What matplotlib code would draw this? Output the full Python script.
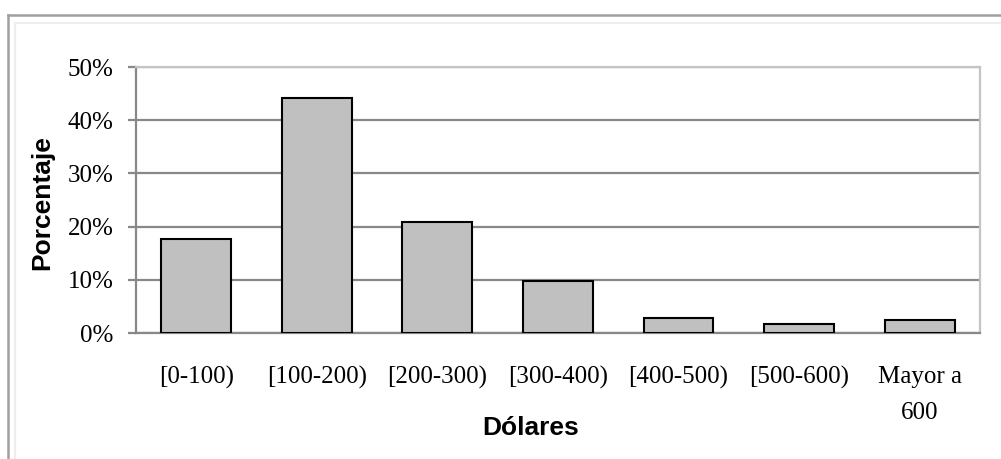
import matplotlib.pyplot as plt
from matplotlib.lines import Line2D
from matplotlib.ticker import FuncFormatter

# rangos de gasto y porcentaje de encuestados
rangos = ['[0-100)', '[100-200)', '[200-300)', '[300-400)',
          '[400-500)', '[500-600)', 'Mayor a\n600']
porcentaje = [17.6, 44.1, 20.9, 9.8, 2.9, 1.7, 2.5]

serif = 'Liberation Serif'
sans = 'Liberation Sans'

fig = plt.figure(figsize=(10.01, 4.59), dpi=100)
ax = fig.add_axes([0.1359, 0.2745, 0.843, 0.5795])

x = range(len(rangos))
ax.bar(x, porcentaje, width=0.58, color='#c0c0c0', edgecolor='black',
       linewidth=1.5, zorder=3)

ax.set_xlim(-0.5, len(rangos) - 0.5)
ax.set_ylim(0, 50)
ax.set_yticks([0, 10, 20, 30, 40, 50])
ax.yaxis.set_major_formatter(FuncFormatter(lambda v, p: f'{v:.0f}%'))
ax.set_xticks(list(x))
ax.set_xticklabels(rangos, fontfamily=serif, fontsize=18, linespacing=1.8)
for lab in ax.get_yticklabels():
    lab.set_fontfamily(serif)
    lab.set_fontsize(18)

ax.grid(axis='y', color='#888888', linewidth=1.6, zorder=0)
ax.tick_params(axis='x', length=0, pad=24)
ax.tick_params(axis='y', length=6, width=1.6, color='#888888', pad=10)

for lado in ['left', 'bottom']:
    ax.spines[lado].set_color('#888888')
    ax.spines[lado].set_linewidth(1.6)
for lado in ['top', 'right']:
    ax.spines[lado].set_color('#c4c4c4')
    ax.spines[lado].set_linewidth(1.6)

ax.set_xlabel('Dólares', fontfamily=sans, fontweight='bold', fontsize=19,
              va='center')
ax.xaxis.set_label_coords(0.468, -0.357)
ax.set_ylabel('Porcentaje', fontfamily=sans, fontweight='bold', fontsize=19,
              va='center')
ax.yaxis.set_label_coords(-0.111, 0.489)

# marco del gráfico
W, H = 1001, 459
fig.add_artist(Line2D([8 / W, 8 / W], [0, 1 - 15 / H], color='#a0a0a0',
                      linewidth=1.8, transform=fig.transFigure))
fig.add_artist(Line2D([8 / W, 1], [1 - 15 / H, 1 - 15 / H], color='#a0a0a0',
                      linewidth=1.8, transform=fig.transFigure))
fig.add_artist(Line2D([14.5 / W, 14.5 / W], [0, 1 - 22.5 / H], color='#eeeeee',
                      linewidth=1.6, transform=fig.transFigure))
fig.add_artist(Line2D([14.5 / W, 1], [1 - 22.5 / H, 1 - 22.5 / H],
                      color='#eeeeee', linewidth=1.6, transform=fig.transFigure))

fig.savefig('out.png', dpi=100)
